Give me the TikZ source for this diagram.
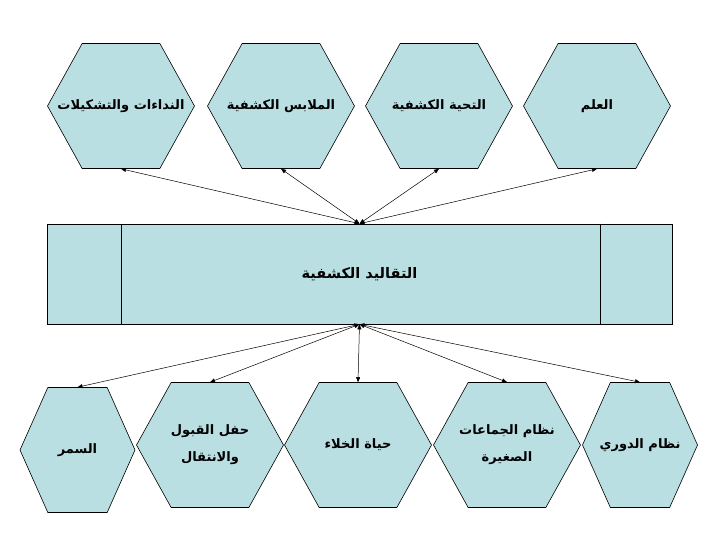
\documentclass[tikz,border=0pt]{standalone}
\usepackage{fontspec}
\usepackage{tikz}
\usetikzlibrary{shapes.symbols,arrows.meta}
\newfontfamily\arabicfont[Script=Arabic]{DejaVu Sans}
\TeXXeTstate=1
\definecolor{scoutblue}{RGB}{186,223,227}
\newcommand{\arline}[1]{\makebox[0pt]{\beginR #1\endR}}
\tikzset{
  hexa/.style={signal, signal to=east and west, signal pointer angle=122,
    draw=black, line width=0.6pt, fill=scoutblue, minimum width=147pt,
    minimum height=125pt, inner sep=0pt, align=center,
    font=\arabicfont\bfseries\fontsize{13}{27}\selectfont},
  slimhexa/.style={hexa, signal pointer angle=132, minimum width=115pt},
  link/.style={<->, >={Triangle[length=5pt,width=4pt]}, line width=0.5pt},
}
\begin{document}
\begin{tikzpicture}[x=1pt,y=-1pt]
				\useasboundingbox (0,0) rectangle (728,546);
				% top row
				\node[hexa] (calls) at (121,106) {\arline{النداءات والتشكيلات}};
				\node[hexa] (uniform) at (281,106) {\arline{الملابس الكشفية}};
				\node[hexa] (salute) at (439,106) {\arline{التحية الكشفية}};
				\node[hexa] (flag) at (597,106) {\arline{العلم}};
				
				% middle band
				\node[draw=black, line width=0.6pt, fill=scoutblue, minimum width=625pt,
				  minimum height=100pt, inner sep=0pt,
				  font=\arabicfont\bfseries\fontsize{14.5}{16}\selectfont] (band) at (359.5,274)
				  {\beginR التقاليد الكشفية\endR};
				\draw[line width=0.6pt] ([xshift=75pt]band.north west) -- ([xshift=75pt]band.south west);
				\draw[line width=0.6pt] ([xshift=-72pt]band.north east) -- ([xshift=-72pt]band.south east);
				
				% bottom row
				\node[slimhexa] (evening) at (77.5,450) {\arline{السمر}};
				\node[hexa] (ceremony) at (210,445) {\arline{حفل القبول}\\\arline{والانتقال}};
				\node[hexa] (outdoor) at (358,445) {\arline{حياة الخلاء}};
				\node[hexa] (patrols) at (507,445) {\arline{نظام الجماعات}\\\arline{الصغيرة}};
				\node[slimhexa] (league) at (640,445) {\arline{نظام الدوري}};
				
				% arrows
				\foreach \n in {calls,uniform,salute,flag}
				  \draw[link] (band.north) -- (\n.south);
				\foreach \n in {evening,ceremony,outdoor,patrols,league}
				  \draw[link] (band.south) -- (\n.north);
			\end{tikzpicture}
\end{document}
